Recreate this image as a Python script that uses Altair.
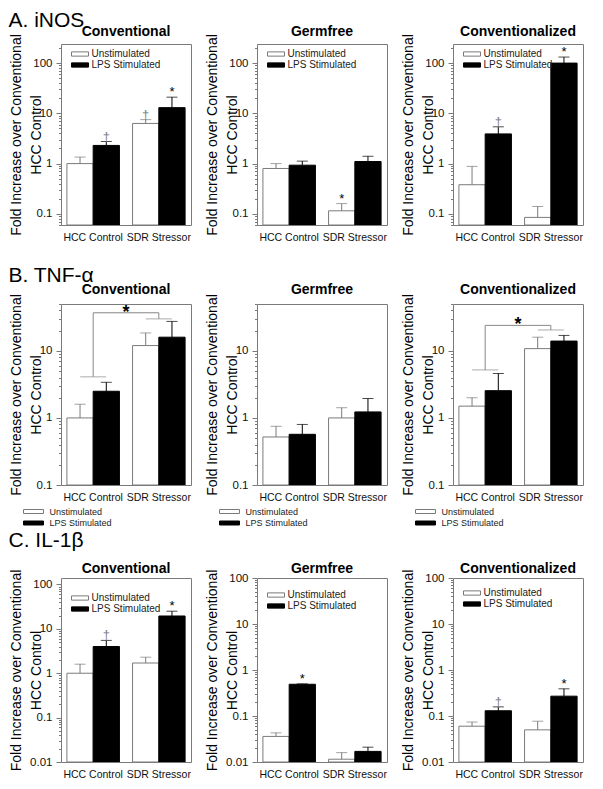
import altair as alt
import pandas as pd

FONT = "Liberation Sans"
GRAY = "#7a7a7a"

GROUPS = ["HCC Control", "SDR Stressor"]
CONDS = ["Unstimulated", "LPS Stimulated"]
BAR_GROUP = ["HCC Control", "HCC Control", "SDR Stressor", "SDR Stressor"]
BAR_COND = ["Unstimulated", "LPS Stimulated", "Unstimulated", "LPS Stimulated"]

ROW_LABELS = ["A. iNOS", "B. TNF-α", "C. IL-1β"]
PANEL_TITLES = ["Conventional", "Germfree", "Conventionalized"]
Y_TITLE = ["Fold Increase over Conventional", "HCC Control"]

# ---- A. iNOS ----
A_CONV_MEAN = [1.0, 2.3, 6.3, 13.0]
A_CONV_UPPER = [1.35, 2.75, 7.5, 21.0]
A_CONV_SIG = ["", "†", "†", "*"]
A_GERM_MEAN = [0.8, 0.93, 0.115, 1.1]
A_GERM_UPPER = [1.0, 1.12, 0.16, 1.4]
A_GERM_SIG = ["", "", "*", ""]
A_CONVZ_MEAN = [0.38, 3.9, 0.085, 100.0]
A_CONVZ_UPPER = [0.88, 5.4, 0.14, 132.0]
A_CONVZ_SIG = ["", "†", "", "*"]
A_DOMAIN = [0.06, 240]
A_MAJOR = [0.1, 1, 10, 100]

# ---- B. TNF-alpha ----
B_CONV_MEAN = [1.0, 2.5, 12.0, 16.0]
B_CONV_UPPER = [1.6, 3.4, 18.5, 27.5]
B_GERM_MEAN = [0.52, 0.57, 1.0, 1.23]
B_GERM_UPPER = [0.75, 0.8, 1.42, 1.95]
B_CONVZ_MEAN = [1.5, 2.55, 10.8, 14.0]
B_CONVZ_UPPER = [2.0, 4.6, 16.0, 17.0]
B_NO_SIG = ["", "", "", ""]
B_CONV_BRACKET = [4.1, 37.0, 30.0]    # HCC arm, top line, SDR arm
B_CONVZ_BRACKET = [5.2, 24.0, 20.5]
B_DOMAIN = [0.1, 50]
B_MAJOR = [0.1, 1, 10]

# ---- C. IL-1beta ----
C_CONV_MEAN = [1.0, 4.0, 1.7, 19.5]
C_CONV_UPPER = [1.6, 5.5, 2.3, 25.0]
C_CONV_SIG = ["", "†", "", "*"]
C_GERM_MEAN = [0.036, 0.49, 0.0115, 0.017]
C_GERM_UPPER = [0.043, 0.5, 0.016, 0.021]
C_GERM_SIG = ["", "*", "", ""]
C_CONVZ_MEAN = [0.06, 0.13, 0.05, 0.27]
C_CONVZ_UPPER = [0.074, 0.158, 0.077, 0.39]
C_CONVZ_SIG = ["", "†", "", "*"]
C_CONV_DOMAIN = [0.01, 140]
C_DOMAIN = [0.01, 100]
C_MAJOR = [0.01, 0.1, 1, 10, 100]

ROW_HEIGHTS = [181, 181, 184]
PANEL_W = 130

INSIDE_PATH = "M-2,-0.5H2V0.5H-2Z"
BELOW_PATH = "M-2,-0.4H2V0.4H-2Z"


def legend_inside(ly):
    return alt.Legend(title=None, orient="none", legendX=14, legendY=ly,
                      symbolType=INSIDE_PATH, symbolSize=72.25,
                      symbolStrokeColor="#666", symbolStrokeWidth=1,
                      labelFontSize=10, labelOffset=6.5, rowPadding=1,
                      padding=0, labelFont=FONT, labelColor="#222")


def legend_below(h):
    return alt.Legend(title=None, orient="none", legendX=-33, legendY=h + 21,
                      symbolType=BELOW_PATH, symbolSize=100,
                      symbolStrokeColor="#666", symbolStrokeWidth=1,
                      labelFontSize=9, labelOffset=10.5, rowPadding=0.5,
                      padding=0, labelFont=FONT, labelColor="#222")


def x_enc(band_position=None):
    kw = {}
    if band_position is not None:
        kw["bandPosition"] = band_position
    return alt.X("group:N", sort=GROUPS,
                 scale=alt.Scale(domain=GROUPS, paddingInner=0.2, paddingOuter=0.09),
                 axis=alt.Axis(title=None, labelAngle=0, ticks=False, domain=False,
                               labelPadding=7, labelFontSize=10.5), **kw)


def make_panel(title, mean, upper, sig, domain, major, height, legend,
               title_offset, bracket=None):
    df = pd.DataFrame({"group": BAR_GROUP, "cond": BAR_COND,
                       "mean": mean, "upper": upper, "sig": sig})
    lo, hi = domain
    ticks = []
    for k in range(-3, 4):
        for m in range(1, 10):
            v = round(m * 10.0 ** k, 8)
            if lo <= v <= hi:
                ticks.append(v)
    major_list = "[" + ",".join(repr(float(v)) for v in major) + "]"
    is_major = f"indexof({major_list}, datum.value) >= 0"

    yscale = alt.Scale(type="log", domain=domain, nice=False)
    yaxis = alt.Axis(values=ticks, format="~g",
                     labelExpr=f"{is_major} ? datum.label : ''",
                     tickSize={"condition": {"test": is_major, "value": 5}, "value": 2.5},
                     labelOverlap=False, labelFlush=False, labelFontSize=11.5,
                     labelPadding=4, domain=False, grid=False,
                     title=Y_TITLE, titleFontSize=14, titleFontWeight="normal",
                     titleLineHeight=20, titleAngle=270, titleBaseline="bottom",
                     titleX=-38)
    xenc = x_enc()
    xoff = alt.XOffset("cond:N", sort=CONDS,
                       scale=alt.Scale(domain=CONDS, paddingInner=0, paddingOuter=0))
    base = alt.Chart(df)
    bars = base.mark_bar(strokeWidth=1, clip=True).encode(
        x=xenc, xOffset=xoff,
        y=alt.Y("mean:Q", scale=yscale, axis=yaxis),
        y2=alt.datum(lo),
        fill=alt.Fill("cond:N", sort=CONDS,
                      scale=alt.Scale(domain=CONDS, range=["white", "black"]),
                      legend=legend),
        stroke=alt.Stroke("cond:N", sort=CONDS,
                          scale=alt.Scale(domain=CONDS, range=[GRAY, "black"]),
                          legend=None),
    )
    err_color = alt.condition("datum.cond == 'Unstimulated'", alt.value(GRAY), alt.value("black"))
    rules = base.mark_rule(strokeWidth=1).encode(
        x=xenc, xOffset=xoff, y=alt.Y("mean:Q", scale=yscale, axis=yaxis),
        y2="upper:Q", color=err_color)
    caps = base.mark_tick(thickness=1, size=11).encode(
        x=xenc, xOffset=xoff, y=alt.Y("upper:Q", scale=yscale, axis=yaxis),
        color=err_color)
    marks = base.mark_text(baseline="alphabetic", dy=-1, fontSize=13, font=FONT).encode(
        x=xenc, xOffset=xoff, y=alt.Y("upper:Q", scale=yscale, axis=yaxis),
        text="sig:N",
        color=alt.condition("datum.sig == '*'", alt.value("black"), alt.value("#808080")))
    layers = [bars, rules, caps, marks]

    if bracket is not None:
        arm1, top, arm2 = bracket
        line_df = pd.DataFrame({"group": ["HCC Control", "HCC Control", "SDR Stressor", "SDR Stressor"],
                                "y": [arm1, top, top, arm2], "order": [0, 1, 2, 3]})
        arm_df = pd.DataFrame({"group": GROUPS, "y": [arm1, arm2]})
        star_df = pd.DataFrame({"group": ["HCC Control"], "y": [top], "t": ["*"]})
        conn = alt.Chart(line_df).mark_line(color="#888", strokeWidth=1).encode(
            x=xenc, y=alt.Y("y:Q", scale=yscale, axis=yaxis), order="order:Q")
        arms = alt.Chart(arm_df).mark_tick(color="#888", thickness=1, size=26).encode(
            x=xenc, y=alt.Y("y:Q", scale=yscale, axis=yaxis))
        star = alt.Chart(star_df).mark_text(fontSize=18, fontWeight="bold", dy=5, dx=6.5,
                                            baseline="alphabetic", font=FONT,
                                            color="black").encode(
            x=x_enc(1), y=alt.Y("y:Q", scale=yscale, axis=yaxis), text="t:N")
        layers += [conn, arms, star]

    return alt.layer(*layers).properties(
        width=PANEL_W, height=height,
        title=alt.TitleParams(title, fontSize=14, fontWeight="bold", font=FONT,
                              offset=title_offset, anchor="middle", color="black"))


hA, hB, hC = ROW_HEIGHTS
row_a = [
    make_panel(PANEL_TITLES[0], A_CONV_MEAN, A_CONV_UPPER, A_CONV_SIG, A_DOMAIN, A_MAJOR, hA, legend_inside(5), -5),
    make_panel(PANEL_TITLES[1], A_GERM_MEAN, A_GERM_UPPER, A_GERM_SIG, A_DOMAIN, A_MAJOR, hA, legend_inside(5), -5),
    make_panel(PANEL_TITLES[2], A_CONVZ_MEAN, A_CONVZ_UPPER, A_CONVZ_SIG, A_DOMAIN, A_MAJOR, hA, legend_inside(5), -5),
]
row_b = [
    make_panel(PANEL_TITLES[0], B_CONV_MEAN, B_CONV_UPPER, B_NO_SIG, B_DOMAIN, B_MAJOR, hB, legend_below(hB), -3, B_CONV_BRACKET),
    make_panel(PANEL_TITLES[1], B_GERM_MEAN, B_GERM_UPPER, B_NO_SIG, B_DOMAIN, B_MAJOR, hB, legend_below(hB), -3),
    make_panel(PANEL_TITLES[2], B_CONVZ_MEAN, B_CONVZ_UPPER, B_NO_SIG, B_DOMAIN, B_MAJOR, hB, legend_below(hB), -3, B_CONVZ_BRACKET),
]
row_c = [
    make_panel(PANEL_TITLES[0], C_CONV_MEAN, C_CONV_UPPER, C_CONV_SIG, C_CONV_DOMAIN, C_MAJOR, hC, legend_inside(15), -7),
    make_panel(PANEL_TITLES[1], C_GERM_MEAN, C_GERM_UPPER, C_GERM_SIG, C_DOMAIN, C_MAJOR, hC, legend_inside(12), -7),
    make_panel(PANEL_TITLES[2], C_CONVZ_MEAN, C_CONVZ_UPPER, C_CONVZ_SIG, C_DOMAIN, C_MAJOR, hC, legend_inside(10), -7),
]


def make_row(label, panels, offset):
    return alt.hconcat(*panels, spacing=12, title=alt.TitleParams(
        label, anchor="start", fontSize=21, fontWeight="normal", font=FONT,
        offset=offset, color="black")
    ).resolve_scale(fill="independent", stroke="independent", color="independent",
                    x="independent", y="independent"
    ).resolve_legend(fill="independent", stroke="independent")


rowA = make_row(ROW_LABELS[0], row_a, -7)
rowB = make_row(ROW_LABELS[1], row_b, -4)
rowC = make_row(ROW_LABELS[2], row_c, 11)

chart = alt.vconcat(
    alt.vconcat(rowA, rowB, spacing=22).resolve_scale(
        fill="independent", stroke="independent", color="independent"
    ).resolve_legend(fill="independent", stroke="independent"),
    rowC, spacing=0
).resolve_scale(
    fill="independent", stroke="independent", color="independent"
).resolve_legend(fill="independent", stroke="independent").properties(
    padding={"top": 2, "left": 0, "right": 0, "bottom": 0}
).configure(font=FONT).configure_view(
    stroke=GRAY, strokeWidth=1
).configure_axis(
    labelFont=FONT, titleFont=FONT, labelColor="#111", titleColor="black",
    tickColor=GRAY
)

chart.save("out.html", embed_options={"renderer": "svg", "actions": False})
